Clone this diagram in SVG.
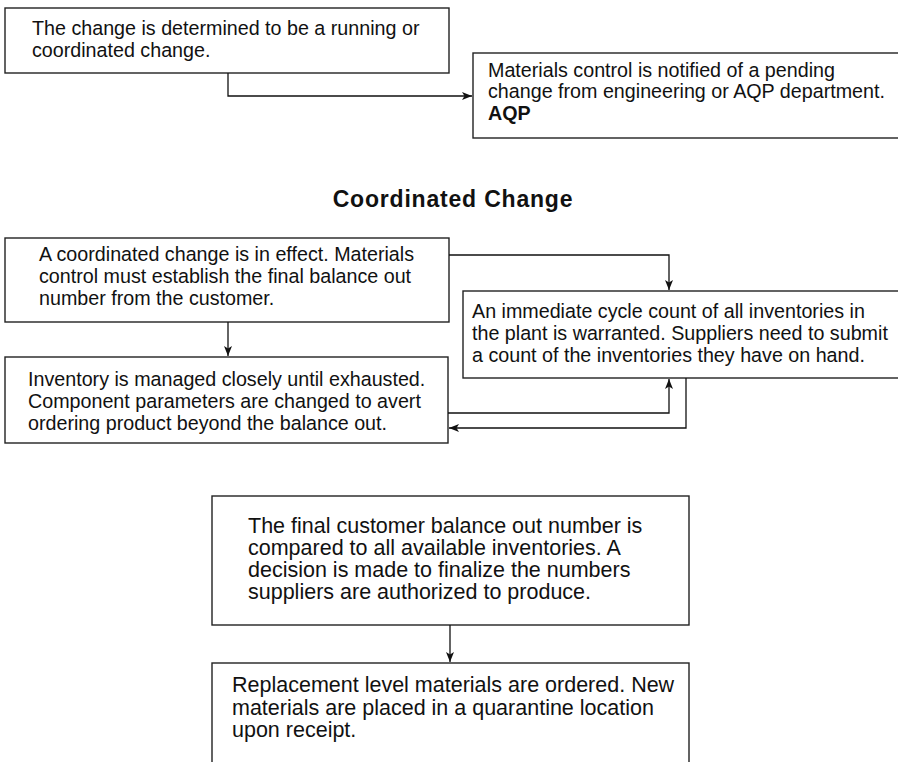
<svg xmlns="http://www.w3.org/2000/svg" width="898" height="762" viewBox="0 0 898 762">
<defs>
<marker id="arr" viewBox="0 0 10 8" refX="10" refY="4" markerWidth="10" markerHeight="8" markerUnits="userSpaceOnUse" orient="auto">
<path d="M0,0 L10,4 L0,8 L2.5,4 Z" fill="#111"/>
</marker>
<style>
.box{fill:#fff;stroke:#222;stroke-width:1.4}
.t{font-family:"Liberation Sans",Arial,sans-serif;font-size:19.7px;fill:#111}
.L{font-size:21.5px}
.b{font-weight:bold}
.c{fill:none;stroke:#111;stroke-width:1.3;marker-end:url(#arr)}
</style>
</defs>
<rect width="898" height="762" fill="#fff"/>
<g id="n1">
<rect class="box" x="5" y="8" width="444" height="65"/>
<text class="t" x="32" y="35">The change is determined to be a running or</text>
<text class="t" x="32" y="57">coordinated change.</text>
</g>
<g id="n2">
<rect class="box" x="473" y="53" width="440" height="85"/>
<text class="t" x="488" y="77">Materials control is notified of a pending</text>
<text class="t" x="488" y="98">change from engineering or AQP department.</text>
<text class="t b" x="488" y="120">AQP</text>
</g>
<g id="title">
<text class="t b" x="453" y="207" text-anchor="middle" style="font-size:23px;letter-spacing:0.8px">Coordinated Change</text>
</g>
<g id="n3">
<rect class="box" x="5" y="238" width="444" height="84"/>
<text class="t" x="39" y="261">A coordinated change is in effect. Materials</text>
<text class="t" x="39" y="283">control must establish the final balance out</text>
<text class="t" x="39" y="305">number from the customer.</text>
</g>
<g id="n4">
<rect class="box" x="5" y="357" width="443" height="86"/>
<text class="t" x="28" y="386">Inventory is managed closely until exhausted.</text>
<text class="t" x="28" y="408">Component parameters are changed to avert</text>
<text class="t" x="28" y="430">ordering product beyond the balance out.</text>
</g>
<g id="n5">
<rect class="box" x="463" y="291" width="450" height="87"/>
<text class="t" x="472" y="318">An immediate cycle count of all inventories in</text>
<text class="t" x="472" y="340">the plant is warranted. Suppliers need to submit</text>
<text class="t" x="472" y="362">a count of the inventories they have on hand.</text>
</g>
<g id="n6">
<rect class="box" x="212" y="496" width="477" height="129"/>
<text class="t L" x="248" y="533">The final customer balance out number is</text>
<text class="t L" x="248" y="555">compared to all available inventories. A</text>
<text class="t L" x="248" y="577">decision is made to finalize the numbers</text>
<text class="t L" x="248" y="599">suppliers are authorized to produce.</text>
</g>
<g id="n7">
<rect class="box" x="212" y="663" width="477" height="120"/>
<text class="t L" x="232" y="692">Replacement level materials are ordered. New</text>
<text class="t L" x="232" y="715">materials are placed in a quarantine location</text>
<text class="t L" x="232" y="737">upon receipt.</text>
</g>
<g id="connectors">
<path class="c" d="M228,73 V96 H472"/>
<path class="c" d="M449,255 H669 V290"/>
<path class="c" d="M228,322 V356"/>
<path class="c" d="M448,413 H669 V379"/>
<path class="c" d="M686,378 V428 H449"/>
<path class="c" d="M450,625 V662"/>
</g>
</svg>
